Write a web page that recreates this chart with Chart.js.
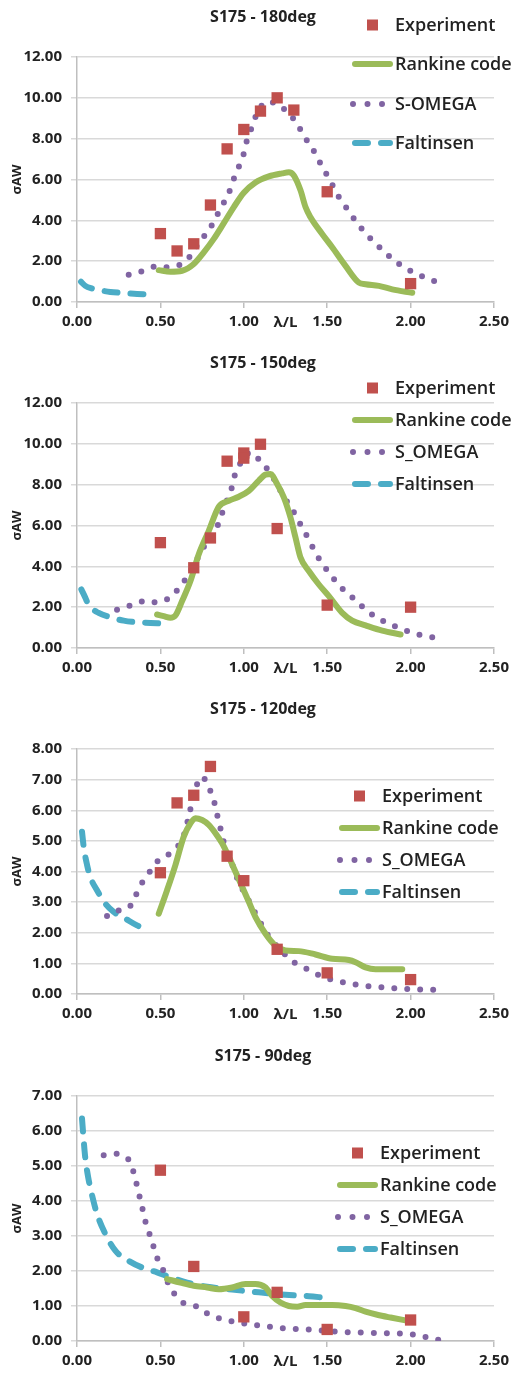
<!DOCTYPE html>
<html>
<head>
<meta charset="utf-8">
<script src="https://cdn.jsdelivr.net/npm/chart.js@4.4.1/dist/chart.umd.min.js"></script>
<style>
  html, body { margin: 0; padding: 0; background: #fff; overflow: hidden; }
  body { width: 514px; height: 1373px; position: relative; }
  .box { position: absolute; left: 0; width: 514px; height: 340px; }
</style>
</head>
<body>
<div class="box" style="top:0px"><canvas id="c180"></canvas></div>
<div class="box" style="top:346px"><canvas id="c150"></canvas></div>
<div class="box" style="top:692px"><canvas id="c120"></canvas></div>
<div class="box" style="top:1039px"><canvas id="c90"></canvas></div>
<script>
// x ticks (lambda/L)
var xTicks = [0, 0.5, 1.0, 1.5, 2.0, 2.5];
var seriesNames = ['Experiment', 'Rankine code', 'S_OMEGA', 'Faltinsen'];

// ---- S175 - 180deg
var exp180 = [[0.5,3.35],[0.6,2.5],[0.7,2.85],[0.8,4.75],[0.9,7.5],[1.0,8.45],[1.1,9.35],[1.2,10.0],[1.3,9.4],[1.5,5.4],[2.0,0.9]];
var rank180 = [[0.49,1.56],[0.56,1.48],[0.63,1.53],[0.70,1.86],[0.76,2.43],[0.82,3.09],[0.88,3.86],[0.94,4.65],[1.0,5.35],[1.07,5.85],[1.15,6.15],[1.23,6.3],[1.27,6.35],[1.30,6.2],[1.34,5.47],[1.37,4.65],[1.40,4.15],[1.47,3.33],[1.53,2.68],[1.61,1.77],[1.69,0.95],[1.73,0.87],[1.81,0.79],[1.89,0.62],[2.01,0.45]];
var omega180 = [[0.31,1.33],[0.39,1.51],[0.47,1.74],[0.55,1.71],[0.63,1.87],[0.69,2.36],[0.73,2.91],[0.79,3.51],[0.83,4.11],[0.87,4.71],[0.91,5.34],[0.94,6.03],[0.97,6.62],[1.0,7.27],[1.02,7.95],[1.05,8.59],[1.08,9.24],[1.13,9.8],[1.2,9.69],[1.27,9.24],[1.32,8.72],[1.36,8.14],[1.41,7.54],[1.45,6.93],[1.49,6.34],[1.53,5.75],[1.57,5.14],[1.62,4.55],[1.67,3.97],[1.72,3.46],[1.78,2.94],[1.84,2.48],[1.9,2.04],[1.97,1.66],[2.05,1.33],[2.13,1.07],[2.2,0.8]];
var falt180 = [[0.024,0.99],[0.05,0.79],[0.09,0.66],[0.14,0.57],[0.2,0.49],[0.28,0.44],[0.36,0.39],[0.46,0.38]];

// ---- S175 - 150deg
var exp150 = [[0.5,5.16],[0.7,3.93],[0.8,5.39],[0.9,9.15],[1.0,9.55],[1.0,9.3],[1.1,9.98],[1.2,5.85],[1.5,2.1],[2.0,2.0]];
var rank150 = [[0.48,1.64],[0.52,1.56],[0.56,1.48],[0.59,1.59],[0.63,2.3],[0.68,3.28],[0.73,4.59],[0.79,5.74],[0.85,6.92],[0.91,7.21],[0.97,7.41],[1.03,7.7],[1.09,8.2],[1.13,8.49],[1.16,8.52],[1.2,8.03],[1.24,7.38],[1.28,6.39],[1.31,5.41],[1.34,4.43],[1.39,3.77],[1.45,3.11],[1.51,2.54],[1.59,1.72],[1.65,1.34],[1.73,1.11],[1.83,0.85],[1.94,0.66]];
var omega150 = [[0.24,1.87],[0.32,2.08],[0.4,2.3],[0.49,2.23],[0.56,2.49],[0.62,3.02],[0.67,3.61],[0.71,4.21],[0.75,4.79],[0.79,5.38],[0.84,5.95],[0.87,6.61],[0.9,7.25],[0.93,7.9],[0.95,8.56],[0.99,9.18],[1.04,9.59],[1.1,9.15],[1.16,8.56],[1.2,8.0],[1.24,7.41],[1.29,6.79],[1.33,6.2],[1.37,5.61],[1.41,4.98],[1.45,4.39],[1.5,3.8],[1.55,3.28],[1.61,2.75],[1.68,2.28],[1.73,1.87],[1.8,1.48],[1.88,1.15],[1.96,0.89],[2.04,0.67],[2.12,0.54],[2.2,0.38]];
var falt150 = [[0.026,2.87],[0.05,2.46],[0.07,2.1],[0.13,1.72],[0.2,1.51],[0.28,1.34],[0.36,1.26],[0.44,1.23],[0.51,1.2]];

// ---- S175 - 120deg
var exp120 = [[0.5,3.96],[0.6,6.24],[0.7,6.49],[0.8,7.43],[0.9,4.5],[1.0,3.7],[1.2,1.46],[1.5,0.69],[2.0,0.47]];
var rank120 = [[0.49,2.62],[0.54,3.39],[0.59,4.21],[0.64,5.14],[0.68,5.57],[0.71,5.74],[0.75,5.68],[0.79,5.52],[0.83,5.25],[0.87,4.92],[0.91,4.48],[0.95,3.99],[0.99,3.5],[1.03,3.01],[1.07,2.51],[1.13,1.97],[1.19,1.58],[1.25,1.42],[1.33,1.4],[1.43,1.29],[1.53,1.15],[1.63,1.11],[1.67,1.04],[1.73,0.87],[1.79,0.81],[1.87,0.81],[1.95,0.81]];
var omega120 = [[0.18,2.55],[0.24,2.71],[0.31,2.82],[0.35,3.2],[0.39,3.63],[0.44,4.02],[0.49,4.37],[0.56,4.6],[0.62,4.93],[0.65,5.34],[0.67,5.81],[0.69,6.26],[0.71,6.72],[0.75,7.1],[0.79,6.75],[0.82,6.32],[0.84,5.86],[0.86,5.41],[0.88,4.96],[0.91,4.52],[0.94,4.09],[0.97,3.65],[1.01,3.25],[1.05,2.83],[1.09,2.43],[1.13,2.04],[1.18,1.67],[1.24,1.33],[1.3,1.04],[1.38,0.81],[1.45,0.62],[1.53,0.46],[1.62,0.36],[1.7,0.28],[1.78,0.24],[1.86,0.2],[1.95,0.17],[2.03,0.15],[2.12,0.14],[2.2,0.13]];
var falt120 = [[0.03,5.3],[0.04,4.81],[0.056,4.32],[0.079,3.83],[0.12,3.39],[0.17,2.95],[0.22,2.68],[0.29,2.46],[0.36,2.24],[0.43,2.08]];

// ---- S175 - 90deg
var exp90 = [[0.5,4.88],[0.7,2.13],[1.0,0.69],[1.2,1.39],[1.5,0.33],[2.0,0.6]];
var rank90 = [[0.54,1.77],[0.62,1.67],[0.7,1.58],[0.78,1.53],[0.85,1.48],[0.93,1.53],[1.01,1.63],[1.07,1.63],[1.13,1.53],[1.17,1.29],[1.22,1.1],[1.27,1.0],[1.32,0.98],[1.37,1.03],[1.45,1.03],[1.53,1.03],[1.61,1.0],[1.67,0.94],[1.73,0.84],[1.8,0.75],[1.88,0.67],[1.99,0.57]];
var omega90 = [[0.16,5.31],[0.24,5.35],[0.31,5.18],[0.34,4.81],[0.36,4.43],[0.38,4.03],[0.4,3.63],[0.42,3.24],[0.45,2.87],[0.47,2.48],[0.51,2.1],[0.54,1.72],[0.58,1.37],[0.64,1.08],[0.72,0.98],[0.79,0.76],[0.87,0.62],[0.95,0.54],[1.03,0.48],[1.12,0.43],[1.2,0.38],[1.29,0.35],[1.37,0.33],[1.45,0.31],[1.54,0.27],[1.62,0.25],[1.7,0.24],[1.79,0.23],[1.87,0.22],[1.95,0.21],[2.04,0.17],[2.12,0.08],[2.2,0.0]];
var falt90 = [[0.03,6.36],[0.04,5.74],[0.049,5.26],[0.067,4.68],[0.093,4.11],[0.12,3.63],[0.17,3.06],[0.23,2.58],[0.31,2.29],[0.39,2.1],[0.48,1.96],[0.56,1.82],[0.66,1.67],[0.78,1.55],[0.93,1.47],[1.09,1.39],[1.25,1.32],[1.39,1.28],[1.48,1.24]];

var TXT = '#222';
var FONT = '"Open Sans", "DejaVu Sans", sans-serif';

function pts(a) { return a.map(function (p) { return { x: p[0], y: p[1] }; }); }

// title + legend drawn on the canvas
var decor = {
  id: 'decor',
  afterDraw: function (chart, args, o) {
    var ctx = chart.ctx;
    ctx.save();
    ctx.fillStyle = TXT;
    ctx.textBaseline = 'middle';
    ctx.textAlign = 'center';
    ctx.font = 'bold 16px ' + FONT;
    ctx.fillText(o.title, 263, 17);
    ctx.textAlign = 'left';
    ctx.font = '600 18px ' + FONT;
    chart.data.datasets.forEach(function (ds, i) {
      var y = o.rows[i], x0 = o.x, x1 = o.x + 41;
      if (ds.showLine === false) {
        ctx.fillStyle = ds.backgroundColor;
        ctx.fillRect((x0 + x1) / 2 - 5.5, y - 5.5, 11, 11);
      } else {
        ctx.beginPath();
        ctx.strokeStyle = ds.borderColor;
        ctx.lineWidth = ds.borderWidth;
        ctx.lineCap = 'round';
        if (ds.dotted) {
          ctx.setLineDash([0, 14.5]);
          ctx.moveTo(x0 + 1, y); ctx.lineTo(x0 + 31, y);
        } else {
          ctx.setLineDash(ds.borderDash || []);
          ctx.moveTo(x0 + 3, y); ctx.lineTo(x1 - 3, y);
        }
        ctx.stroke();
        ctx.setLineDash([]);
      }
      ctx.fillStyle = TXT;
      ctx.fillText(ds.label, x1 + 2, y + 1);
    });
    ctx.restore();
  }
};

function makeChart(id, title, omegaName, exp, rank, omega, falt, yMax, yStep, legX, legRows) {
  new Chart(document.getElementById(id), {
    type: 'scatter',
    data: {
      datasets: [
        { label: seriesNames[0], data: pts(exp), showLine: false, pointStyle: 'rect',
          pointRadius: 8, pointHoverRadius: 8, backgroundColor: '#C0504D', borderColor: '#C0504D', borderWidth: 0 },
        { label: seriesNames[1], data: pts(rank), showLine: true, pointRadius: 0, borderColor: '#9BBB59',
          borderWidth: 6, cubicInterpolationMode: 'monotone', borderCapStyle: 'round', borderJoinStyle: 'round' },
        { label: omegaName, data: pts(omega), showLine: true, pointRadius: 0, borderColor: '#8064A2',
          borderWidth: 6, borderDash: [0, 13], borderCapStyle: 'round', tension: 0.3, dotted: true },
        { label: seriesNames[3], data: pts(falt), showLine: true, pointRadius: 0, borderColor: '#4BACC6',
          borderWidth: 6, borderDash: [13, 13], borderCapStyle: 'round', cubicInterpolationMode: 'monotone' }
      ]
    },
    options: {
      responsive: true,
      maintainAspectRatio: false,
      animation: false,
      layout: { padding: { top: 57, left: 0, right: 18, bottom: 4 } },
      plugins: {
        legend: { display: false },
        tooltip: { enabled: false },
        decor: { title: title, x: legX, rows: legRows }
      },
      scales: {
        x: {
          type: 'linear', min: 0, max: 2.5,
          afterBuildTicks: function (s) { s.ticks = xTicks.map(function (v) { return { value: v }; }); },
          ticks: { color: TXT, padding: 5, font: { family: FONT, size: 15, weight: 'bold' },
                   callback: function (v) { return Number(v).toFixed(2); } },
          grid: { drawOnChartArea: false, color: '#bfbfbf', lineWidth: 1.5, tickLength: 6 },
          border: { color: '#bfbfbf', width: 1.5 },
          title: { display: true, text: 'λ/L', color: TXT, font: { family: FONT, size: 15, weight: 'bold' },
                   padding: { top: -22, bottom: 4 } }
        },
        y: {
          min: 0, max: yMax,
          afterFit: function (s) { s.width = 77; },
          ticks: { stepSize: yStep, color: TXT, padding: 9, font: { family: FONT, size: 15, weight: 'bold' },
                   callback: function (v) { return Number(v).toFixed(2); } },
          grid: { color: '#d9d9d9', lineWidth: 1.5, tickLength: 6 },
          border: { color: '#bfbfbf', width: 1.5 },
          title: { display: true, text: 'σAW', color: TXT, font: { family: FONT, size: 13, weight: 'bold' },
                   padding: { top: 9, bottom: 0 } }
        }
      }
    },
    plugins: [decor]
  });
}

makeChart('c180', 'S175 - 180deg', 'S-OMEGA', exp180, rank180, omega180, falt180, 12, 2, 352, [25, 64, 104, 143]);
makeChart('c150', 'S175 - 150deg', 'S_OMEGA', exp150, rank150, omega150, falt150, 12, 2, 352, [42, 74, 106, 138]);
makeChart('c120', 'S175 - 120deg', 'S_OMEGA', exp120, rank120, omega120, falt120, 8, 1, 339, [104, 136, 168, 200]);
makeChart('c90', 'S175 - 90deg', 'S_OMEGA', exp90, rank90, omega90, falt90, 7, 1, 337, [114, 146, 178, 210]);
</script>
</body>
</html>
